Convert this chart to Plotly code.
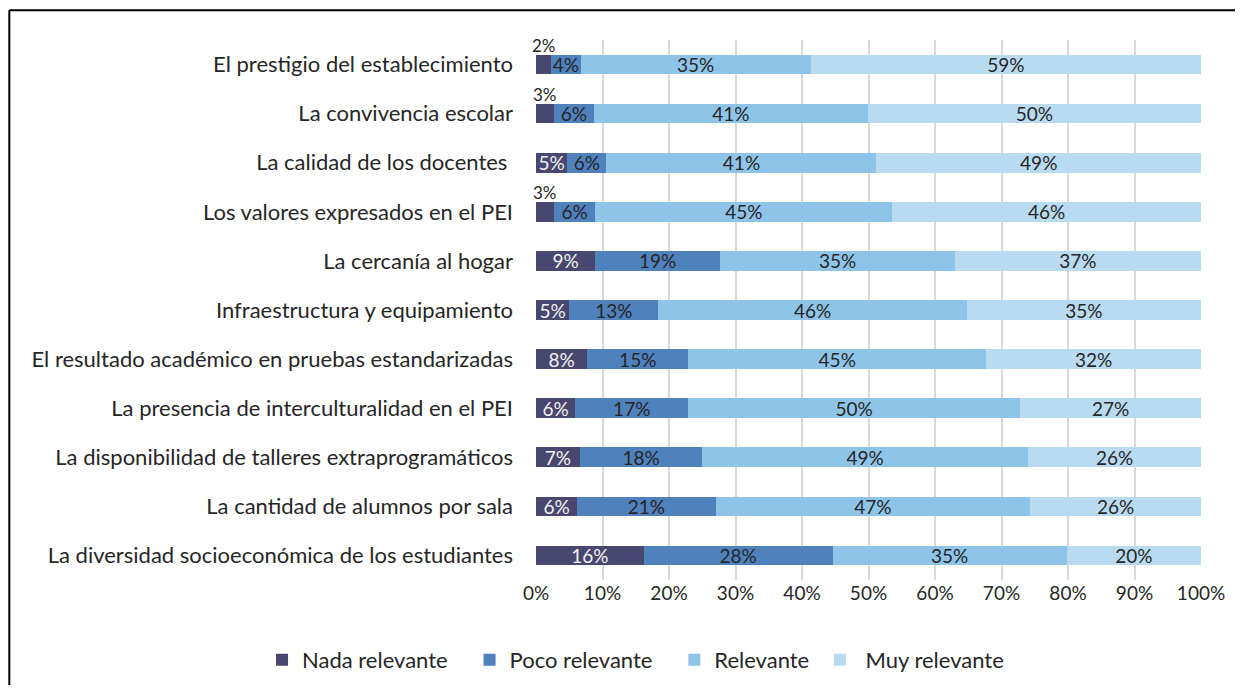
import plotly.graph_objects as go

# categories, top to bottom as in the picture
categorias = [
    "El prestigio del establecimiento",
    "La convivencia escolar",
    "La calidad de los docentes ",
    "Los valores expresados en el PEI",
    "La cercanía al hogar",
    "Infraestructura y equipamiento",
    "El resultado académico en pruebas estandarizadas",
    "La presencia de interculturalidad en el PEI",
    "La disponibilidad de talleres extraprogramáticos",
    "La cantidad de alumnos por sala",
    "La diversidad socioeconómica de los estudiantes",
]

# shares in percent
nada = [2.3, 2.7, 4.7, 2.7, 8.9, 5.0, 7.7, 5.9, 6.6, 6.2, 16.2]
poco = [4.4, 6.0, 5.9, 6.2, 18.8, 13.4, 15.2, 17.0, 18.4, 20.8, 28.4]
relevante = [34.6, 41.2, 40.6, 44.7, 35.3, 46.4, 44.8, 49.9, 49.0, 47.3, 35.2]
muy = [58.7, 50.1, 48.8, 46.4, 37.0, 35.2, 32.3, 27.2, 26.0, 25.7, 20.2]

ticks_x = [0, 10, 20, 30, 40, 50, 60, 70, 80, 90, 100]
ticks_txt = [f"{t}%" for t in ticks_x]

FONT = "Lato, sans-serif"
NB = "\u00a0"

series = [
    ("Nada relevante", "Nada relevante" + NB * 3, nada, "#48476F", "#F2F2F2"),
    ("Poco relevante", "Poco relevante" + NB * 3, poco, "#4F81BD", "#262626"),
    ("Relevante", "Relevante" + NB, relevante, "#8FC4E9", "#262626"),
    ("Muy relevante", NB + "Muy relevante", muy, "#B9DBF1", "#262626"),
]

fig = go.Figure()
for nombre, etiqueta, vals, color, tcolor in series:
    if nombre == "Nada relevante":
        # tiny segments get their label above the bar instead
        txt = ["" if v < 4 else f"{v:.0f}%" for v in vals]
    else:
        txt = [f"{v:.0f}%" for v in vals]
    fig.add_trace(go.Bar(
        y=categorias, x=vals, name=etiqueta, orientation="h",
        marker=dict(color=color, line=dict(width=0)),
        text=txt, textposition="inside", insidetextanchor="middle",
        textangle=0, constraintext="none",
        textfont=dict(family=FONT, size=19, color=tcolor),
        hoverinfo="skip",
    ))

for cat, v in zip(categorias, nada):
    if v < 4:
        fig.add_annotation(x=v / 2, y=cat, text=f"{v:.0f}%", showarrow=False,
                           yshift=19, font=dict(family=FONT, size=17, color="#262626"))

# outer frame of the chart (only top and left edges are visible)
fig.add_shape(type="line", xref="paper", yref="paper",
              x0=-0.792, x1=-0.792, y0=-0.3, y1=1.055,
              line=dict(color="#000000", width=2), layer="below")
fig.add_shape(type="line", xref="paper", yref="paper",
              x0=-0.792, x1=1.3, y0=1.055, y1=1.055,
              line=dict(color="#000000", width=2), layer="below")

fig.update_layout(
    barmode="stack", bargap=0.6,
    width=1227, height=677,
    margin=dict(l=528, r=34, t=32, b=105, autoexpand=False),
    paper_bgcolor="white", plot_bgcolor="white",
    font=dict(family=FONT, size=18, color="#262626"),
    uniformtext=dict(minsize=19, mode="show"),
    showlegend=True,
    legend=dict(orientation="h", x=-0.412, xanchor="left",
                y=-0.109, yanchor="top",
                font=dict(family=FONT, size=22, color="#262626"),
                itemwidth=30, traceorder="normal"),
)
fig.update_xaxes(range=[0, 100], tickvals=ticks_x, ticktext=ticks_txt,
                 showgrid=True, gridcolor="#D9D9D9", gridwidth=1.5,
                 zeroline=False, showline=False,
                 tickfont=dict(family=FONT, size=19, color="#262626"))
fig.update_yaxes(autorange="reversed", showgrid=False, ticklabelstandoff=22,
                 tickfont=dict(family=FONT, size=22, color="#262626"))

fig.write_html("out.html")
